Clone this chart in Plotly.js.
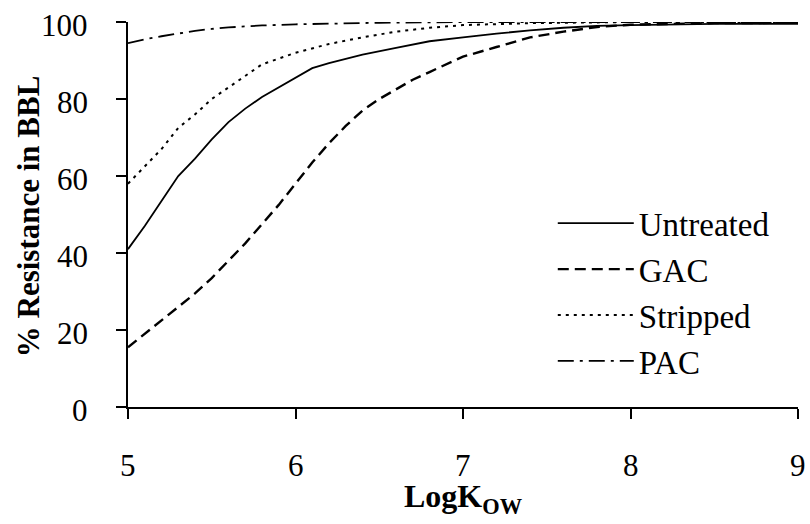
<!DOCTYPE html>
<html>
<head>
<meta charset="utf-8">
<script src="https://cdn.plot.ly/plotly-3.0.1.min.js"></script>
<style>html,body{margin:0;padding:0;background:#fff;}#chart{width:810px;height:524px;}</style>
</head>
<body>
<div id="chart"></div>
<script>
// Data
const untreatedX = [5.0, 5.1, 5.2, 5.3, 5.4, 5.5, 5.6, 5.7, 5.8, 5.9, 6.0, 6.1, 6.2, 6.4, 6.6, 6.8, 7.0, 7.2, 7.4, 7.6, 7.8, 8.0, 8.5, 9.0];
const untreatedY = [41, 47, 53.5, 60, 64.5, 69.5, 74, 77.5, 80.5, 83, 85.5, 88, 89.3, 91.5, 93.3, 95, 96, 97, 97.8, 98.5, 99, 99.2, 99.5, 99.5];

const gacX = [5.0, 5.1, 5.2, 5.3, 5.4, 5.5, 5.6, 5.7, 5.8, 5.9, 6.0, 6.1, 6.2, 6.3, 6.4, 6.5, 6.6, 6.7, 6.8, 6.9, 7.0, 7.2, 7.4, 7.6, 7.8, 8.0, 8.5, 9.0];
const gacY = [15.5, 19, 22.5, 26, 29.5, 33.5, 38, 42.5, 47.5, 52.5, 58, 63.5, 68.5, 73, 77, 80, 82.5, 85, 87, 89, 91, 93.5, 96, 97.5, 98.7, 99.3, 99.7, 99.8];

const strippedX = [5.0, 5.1, 5.2, 5.3, 5.4, 5.5, 5.6, 5.7, 5.8, 5.9, 6.0, 6.2, 6.4, 6.6, 6.8, 7.0, 7.4, 8.0, 9.0];
const strippedY = [58, 62.5, 67, 72.5, 76, 80, 83, 86, 89, 90.5, 92, 94.3, 96, 97.5, 98.5, 99.2, 99.7, 100, 100];

const pacX = [5.0, 5.1, 5.2, 5.3, 5.4, 5.5, 5.6, 5.8, 6.0, 6.5, 7.0, 8.0, 9.0];
const pacY = [94.5, 95.5, 96.3, 97, 97.7, 98.2, 98.6, 99.1, 99.4, 99.8, 100, 100, 100];

const seriesNames = ["Untreated", "GAC", "Stripped", "PAC"];
const xTicks = [5, 6, 7, 8, 9];
const yTicks = [0, 20, 40, 60, 80, 100];
const xTitle = "<b>LogK<sub>OW</sub></b>";
const yTitle = "<b>% Resistance in BBL</b>";

const serif = "Liberation Serif";
const dashes = ["solid", "11px,6px", "3px,5px", "16px,6px,3px,6px"];
const widths = [1.8, 2.4, 2.0, 1.8];
const xs = [untreatedX, gacX, strippedX, pacX];
const ys = [untreatedY, gacY, strippedY, pacY];

const traces = seriesNames.map((n, i) => ({
  x: xs[i], y: ys[i], name: n, type: "scatter", mode: "lines",
  legendgroup: "g" + i, cliponaxis: false,
  line: {color: "#000", width: widths[i], dash: dashes[i], shape: "linear"}
}));

const tickFont = {family: serif, size: 31, color: "#000"};
const annotations = [];
xTicks.forEach(v => annotations.push({
  xref: "x", yref: "paper", x: v, y: -0.153, xanchor: "center", yanchor: "middle",
  showarrow: false, text: String(v), font: tickFont
}));
yTicks.forEach(v => annotations.push({
  xref: "paper", yref: "y", x: -0.057, y: v, xanchor: "right", yanchor: "middle",
  yshift: -3, showarrow: false, text: String(v), font: tickFont
}));
annotations.push({
  xref: "paper", yref: "paper", x: 0.5, y: -0.296, xanchor: "center", yanchor: "bottom",
  showarrow: false, text: xTitle, font: {family: serif, size: 32, color: "#000"}
});
annotations.push({
  xref: "paper", yref: "paper", x: -0.149, y: 0.496, xanchor: "center", yanchor: "middle",
  textangle: -90, showarrow: false, text: yTitle, font: {family: serif, size: 31, color: "#000"}
});

const layout = {
  width: 810, height: 524,
  margin: {l: 128, r: 12, t: 22, b: 117},
  paper_bgcolor: "#fff", plot_bgcolor: "#fff",
  font: {family: serif, color: "#000", size: 31},
  showlegend: true,
  legend: {
    x: 0.634, y: 0.55, xanchor: "left", yanchor: "top",
    bgcolor: "rgba(0,0,0,0)", borderwidth: 0,
    font: {family: serif, size: 33, color: "#000"},
    itemwidth: 76, tracegroupgap: 16, traceorder: "normal"
  },
  annotations: annotations,
  xaxis: {
    range: [5, 9], tickvals: xTicks, showticklabels: false,
    showgrid: false, zeroline: false, showline: true, linecolor: "#000", linewidth: 2,
    ticks: "outside", ticklen: 10, tickwidth: 2, tickcolor: "#000"
  },
  yaxis: {
    range: [0, 100], tickvals: yTicks, showticklabels: false,
    showgrid: false, zeroline: false, showline: true, linecolor: "#000", linewidth: 2,
    ticks: "outside", ticklen: 10, tickwidth: 2, tickcolor: "#000"
  }
};

Plotly.newPlot("chart", traces, layout, {staticPlot: true, displayModeBar: false});
</script>
</body>
</html>
